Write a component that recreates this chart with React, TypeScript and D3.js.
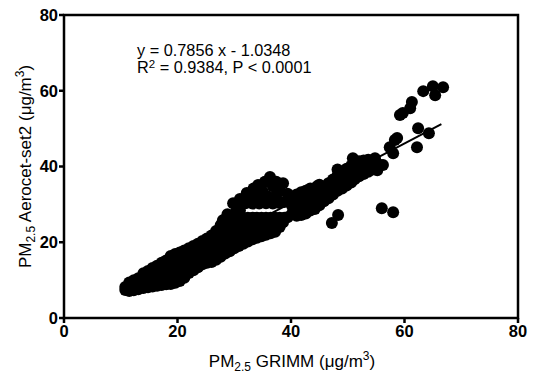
import React from "react";
import * as d3 from "d3";

// Tick values
const xTicks = [0, 20, 40, 60, 80];
const yTicks = [0, 20, 40, 60, 80];

// Regression
const slope = 0.7856;
const intercept = -1.0348;
const fitRange = [11, 66.5];

const lowBand: [number, number][] = [
  [10.8, 7.4], [10.8, 8.2],
  [11.5, 7.1], [11.5, 8.4], [11.5, 9.4],
  [12.3, 7.3], [12.3, 8.6], [12.3, 10.0],
  [13.1, 7.6], [13.1, 9.0], [13.1, 10.5],
  [14.0, 7.9], [14.0, 9.4], [14.0, 10.8], [14.0, 11.8],
  [14.8, 8.1], [14.8, 9.6], [14.8, 11.2], [14.8, 12.4],
  [15.6, 8.3], [15.6, 10.0], [15.6, 11.6], [15.6, 13.2],
  [16.4, 8.5], [16.4, 10.2], [16.4, 12.0], [16.4, 13.8],
  [17.2, 8.7], [17.2, 10.5], [17.2, 12.4], [17.2, 14.6],
  [18.0, 8.9], [18.0, 10.8], [18.0, 12.8], [18.0, 15.2],
  [18.8, 9.0], [18.8, 11.0], [18.8, 13.2], [18.8, 15.4], [18.8, 16.4],
  [19.6, 9.3], [19.6, 11.4], [19.6, 13.6], [19.6, 15.6], [19.6, 16.9],
  [20.4, 9.8], [20.4, 11.8], [20.4, 14.0], [20.4, 16.0], [20.4, 17.3],
];

const midBand: [number, number][] = [
  [21.2, 10.6], [21.2, 12.6], [21.2, 14.6], [21.2, 16.4], [21.2, 17.8],
  [22.0, 11.9], [22.0, 13.2], [22.0, 15.0], [22.0, 16.8], [22.0, 18.4],
  [22.8, 12.6], [22.8, 14.2], [22.8, 15.8], [22.8, 17.4], [22.8, 19.0],
  [23.6, 13.4], [23.6, 15.0], [23.6, 16.6], [23.6, 18.0], [23.6, 19.6],
  [24.4, 14.2], [24.4, 15.8], [24.4, 17.4], [24.4, 18.8], [24.4, 20.3],
  [25.2, 14.6], [25.2, 16.4], [25.2, 18.2], [25.2, 19.6], [25.2, 21.0],
  [26.0, 14.8], [26.0, 16.8], [26.0, 18.8], [26.0, 20.4], [26.0, 21.8],
  [26.8, 15.4], [26.8, 17.4], [26.8, 19.4], [26.8, 21.2], [26.8, 23.0],
  [27.6, 16.2], [27.6, 18.2], [27.6, 20.2], [27.6, 22.2], [27.6, 24.5],
  [28.0, 25.8], [28.8, 27.4], [30.2, 27.8], [31.0, 28.4],
  [28.4, 17.0], [28.4, 19.0], [28.4, 21.0], [28.4, 23.0],
  [29.2, 17.6], [29.2, 19.6], [29.2, 21.8], [29.2, 23.8], [29.2, 26.0],
  [29.8, 30.3], [30.6, 29.0],
  [30.0, 18.4], [30.0, 20.4], [30.0, 22.6], [30.0, 24.6],
  [30.8, 19.0], [30.8, 21.0], [30.8, 23.2], [30.8, 25.4], [30.8, 26.8],
  [31.6, 19.6], [31.6, 21.8], [31.6, 24.0], [31.6, 26.4],
  [32.4, 20.2], [32.4, 22.4], [32.4, 24.6], [32.4, 26.5],
  [33.2, 20.8], [33.2, 23.0], [33.2, 25.2], [33.2, 26.5],
  [34.0, 21.2], [34.0, 23.4], [34.0, 25.6], [34.0, 26.5],
  [34.8, 21.6], [34.8, 23.8], [34.8, 26.5],
  [35.6, 22.0], [35.6, 24.2], [35.6, 26.5],
  [36.4, 22.4], [36.4, 24.6], [36.4, 26.5],
  [37.2, 22.8], [37.2, 25.0], [37.2, 26.5],
  [38.0, 24.0], [38.0, 26.5], [38.6, 25.3], [38.8, 26.5], [39.4, 26.6],
];

const topCluster: [number, number][] = [
  [31.0, 31.4], [32.0, 30.3], [32.2, 33.0], [33.2, 32.0], [33.2, 30.2],
  [33.4, 34.2], [34.2, 35.1], [35.0, 33.4], [34.4, 30.2], [35.4, 36.0],
  [35.6, 30.3], [36.3, 37.2], [36.8, 34.8], [36.8, 30.2], [37.4, 36.0],
  [37.8, 30.4], [38.0, 33.6], [38.6, 35.6], [38.8, 30.6], [39.4, 32.8],
  [35.8, 32.2], [37.4, 32.4], [34.0, 32.0],
];

const upperBand: [number, number][] = [
  [40.2, 27.6], [40.2, 29.6], [40.2, 31.6],
  [41.0, 27.0], [41.0, 29.0], [41.0, 31.0], [41.0, 32.6],
  [41.8, 27.2], [41.8, 29.4], [41.8, 31.6], [41.8, 33.2],
  [42.6, 27.6], [42.6, 29.8], [42.6, 32.0], [42.6, 33.6],
  [43.4, 28.4], [43.4, 30.6], [43.4, 32.6], [43.4, 34.2],
  [44.2, 28.8], [44.2, 31.0], [44.2, 33.0], [44.6, 34.8],
  [45.0, 29.8], [45.0, 32.0], [45.0, 34.0], [45.0, 35.2],
  [45.8, 30.8], [45.8, 32.8], [45.8, 34.6],
  [46.6, 31.6], [46.6, 33.6], [46.6, 35.6],
  [47.4, 32.6], [47.4, 34.6], [47.4, 36.6],
  [48.2, 33.6], [48.2, 35.6], [48.2, 37.6], [48.2, 39.2],
  [49.0, 34.2], [49.0, 36.4], [49.0, 38.4],
  [49.8, 35.0], [49.8, 37.2], [49.8, 39.4],
  [50.6, 35.8], [50.6, 38.0], [50.6, 40.2], [50.9, 42.2],
  [51.2, 36.6], [51.2, 38.8], [51.2, 41.2],
  [52.0, 37.4], [52.0, 39.4], [52.0, 41.4],
  [52.8, 38.0], [52.8, 40.0], [52.8, 41.6],
  [53.6, 38.6], [53.6, 40.4], [53.6, 41.8],
  [54.4, 39.2], [54.4, 41.2], [54.8, 42.2],
  [55.2, 39.0], [55.2, 40.8], [56.2, 40.4],
  [57.4, 45.1], [58.0, 43.5], [58.3, 47.0], [58.7, 47.5],
];

const highEnd: [number, number][] = [
  [59.2, 53.6], [59.7, 54.1], [61.0, 55.4], [61.3, 57.0],
  [63.3, 59.9], [65.0, 61.2], [66.8, 60.9], [65.4, 58.8],
  [62.4, 50.1], [64.3, 48.8], [62.2, 45.1],
];

const outliers: [number, number][] = [
  [48.3, 27.2], [47.2, 25.1], [56.0, 29.0], [58.0, 27.9],
];

const allPoints = [...lowBand, ...midBand, ...topCluster, ...upperBand, ...highEnd, ...outliers];

const W = 533;
const H = 376;
const plot = { left: 64, right: 518, top: 15, bottom: 318 };

export default function App() {
  const x = d3.scaleLinear().domain([0, 80]).range([plot.left, plot.right]);
  const y = d3.scaleLinear().domain([0, 80]).range([plot.bottom, plot.top]);
  const line = d3
    .line<number>()
    .x((d) => x(d))
    .y((d) => y(slope * d + intercept));
  const font = "'Liberation Sans', Arial, Helvetica, sans-serif";

  return (
    <svg
      width={W}
      height={H}
      style={{ position: "absolute", left: 0, top: 0, background: "#fff" }}
      fontFamily={font}
    >
      <rect x={0} y={0} width={W} height={H} fill="#fff" />
      {allPoints.map((p, i) => (
        <circle key={i} cx={x(p[0])} cy={y(p[1])} r={6} fill="#000" />
      ))}
      <path d={line(fitRange) || ""} stroke="#000" strokeWidth={2} fill="none" />
      {/* frame */}
      <rect
        x={plot.left}
        y={plot.top}
        width={plot.right - plot.left}
        height={plot.bottom - plot.top}
        fill="none"
        stroke="#000"
        strokeWidth={2.5}
      />
      {/* y ticks */}
      {yTicks.map((t) => (
        <g key={"y" + t}>
          <line x1={plot.left - 5} x2={plot.left} y1={y(t)} y2={y(t)} stroke="#000" strokeWidth={2.5} />
          <text x={plot.left - 6} y={y(t)} dy="0.36em" textAnchor="end" fontSize={16.5} fontWeight="bold">
            {t}
          </text>
        </g>
      ))}
      {/* x ticks */}
      {xTicks.map((t) => (
        <g key={"x" + t}>
          <line x1={x(t)} x2={x(t)} y1={plot.bottom} y2={plot.bottom + 5} stroke="#000" strokeWidth={2.5} />
          <text x={x(t)} y={plot.bottom + 19} textAnchor="middle" fontSize={16.5} fontWeight="bold">
            {t}
          </text>
        </g>
      ))}
      {/* x label */}
      <text x={292} y={367} textAnchor="middle" fontSize={17}>
        PM<tspan fontSize={12} dy={4}>2.5</tspan>
        <tspan dy={-4}> GRIMM (μg/m</tspan>
        <tspan fontSize={12} dy={-7}>3</tspan>
        <tspan dy={7}>)</tspan>
      </text>
      {/* y label */}
      <text transform={`translate(31,${(plot.top + plot.bottom) / 2}) rotate(-90)`} textAnchor="middle" fontSize={17}>
        PM<tspan fontSize={12} dy={4}>2.5</tspan>
        <tspan dy={-4}> Aerocet-set2 (μg/m</tspan>
        <tspan fontSize={12} dy={-7}>3</tspan>
        <tspan dy={7}>)</tspan>
      </text>
      {/* annotation */}
      <text x={137} y={56} fontSize={16.3}>
        y = 0.7856 x - 1.0348
      </text>
      <text x={137} y={73} fontSize={16.3}>
        R<tspan fontSize={11.5} dy={-5}>2</tspan>
        <tspan dy={5}> = 0.9384, P &lt; 0.0001</tspan>
      </text>
    </svg>
  );
}
